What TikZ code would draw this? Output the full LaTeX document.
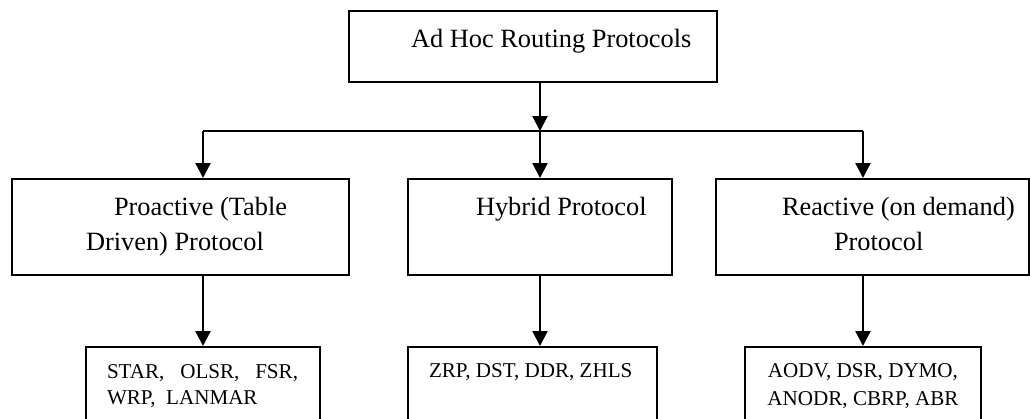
\documentclass[tikz,border=0pt]{standalone}
\usepackage{fontspec}
\setmainfont{Liberation Serif}
\usetikzlibrary{calc}
\usetikzlibrary{arrows.meta, positioning}

\begin{document}
\begin{tikzpicture}[x=0.2mm, y=-0.2mm, line width=0.4mm]
   \tikzstyle{hbox}=[rectangle, draw, inner sep=0pt, minimum height=19.2mm]
   \tikzstyle{lbox}=[rectangle, draw, inner sep=0pt, minimum height=14.8mm]
   \tikzstyle{btxt}=[inner sep=0pt, anchor=base west, font=\fontsize{15}{18}\selectfont]
   \tikzstyle{stxt}=[inner sep=0pt, anchor=base west, font=\fontsize{12}{14}\selectfont]
   \tikzstyle{arr}=[-{Triangle[width=3mm, length=3mm]}, line width=0.45mm]
   \useasboundingbox (0, 0) rectangle (1030, 419);

   % root box
   \draw (533, 46.5) node[rectangle, draw, inner sep=0pt, minimum width=73.6mm, minimum height=14.2mm] (root) {};
   \draw (410, 47) node[btxt] (rootlbl) {Ad Hoc Routing Protocols};
   % protocol class boxes
   \draw (180.5, 227) node[hbox, minimum width=67.4mm] (pro) {};
   \draw (113, 215) node[btxt] (prolbla) {Proactive (Table};
   \draw (85, 250) node[btxt] (prolblb) {Driven) Protocol};
   \draw (540, 227) node[hbox, minimum width=52.8mm] (hyb) {};
   \draw (475, 215) node[btxt] (hyblbl) {Hybrid Protocol};
   \draw (872.5, 227) node[hbox, minimum width=62.6mm] (rea) {};
   \draw (781, 215) node[btxt] (realbla) {Reactive (on demand)};
   \draw (833, 250) node[btxt] (realblb) {Protocol};
   % example protocol boxes
   \draw (203, 384) node[lbox, minimum width=46.8mm] (prol) {};
   \draw (106, 378) node[stxt] (prolista) {STAR,\ \ \ OLSR,\ \ \ FSR,};
   \draw (106, 404) node[stxt] (prolistb) {WRP,\ \ LANMAR};
   \draw (532.5, 384) node[lbox, minimum width=49.8mm] (hybl) {};
   \draw (428, 377) node[stxt] (hyblist) {ZRP, DST, DDR, ZHLS};
   \draw (863, 384) node[lbox, minimum width=47.2mm] (real) {};
   \draw (863, 377) node[stxt, anchor=base] (realista) {AODV, DSR, DYMO,};
   \draw (863, 405) node[stxt, anchor=base] (realistb) {ANODR, CBRP, ABR};

   % split points
   \coordinate (split) at (540, 131);
   \coordinate (splitl) at (203, 131);
   \coordinate (splitr) at (863, 131);

   % root to classes
   \draw[arr] (root.south -| split) -- (split);
   \draw (splitl) -- (splitr);
   \draw[arr] (splitl) -- (splitl |- pro.north);
   \draw[arr] (split) -- (hyb.north);
   \draw[arr] (splitr) -- (splitr |- rea.north);
   % classes to examples
   \draw[arr] (pro.south -| prol.north) -- (prol.north);
   \draw[arr] (hyb.south) -- (hyb.south |- hybl.north);
   \draw[arr] (rea.south -| real.north) -- (real.north);
\end{tikzpicture}
\end{document}
